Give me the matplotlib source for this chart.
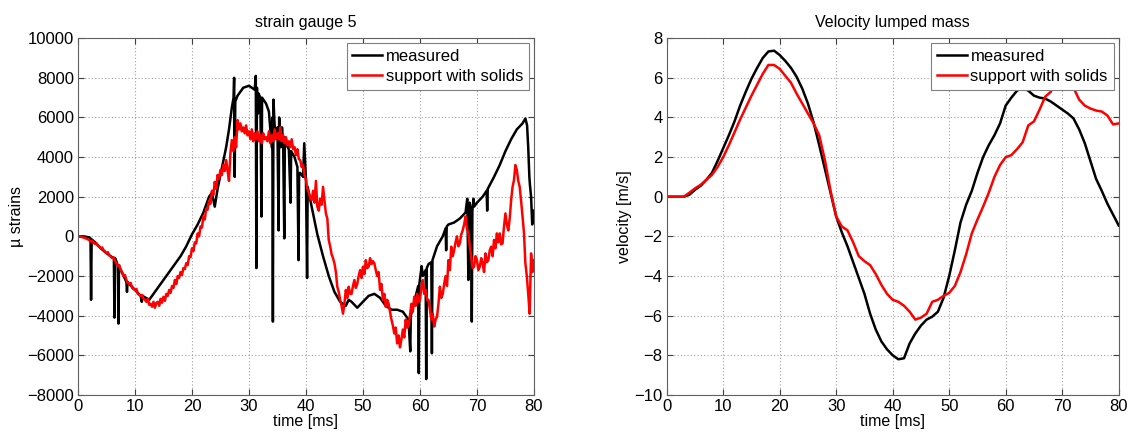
import numpy as np
import matplotlib
matplotlib.use("Agg")
import matplotlib.pyplot as plt

plt.rcParams['font.family'] = ['Liberation Sans', 'DejaVu Sans']

# ---------------- strain gauge 5 ----------------
strain_meas_t = [0, 1, 2, 2.2, 2.3, 2.4, 3, 4, 5, 6, 6.3, 6.4, 6.5, 6.8, 7.0, 7.1, 7.2, 8, 8.5, 8.6, 8.7,
                 9, 10, 11, 11.2, 11.3, 12.5, 13, 14, 15, 16, 17, 18, 19, 20, 21, 22, 23, 23.5, 24, 24.5,
                 25, 26, 26.5, 27, 27.3, 27.4, 27.5, 27.6, 28, 29, 30, 31, 31.2, 31.3, 31.4, 31.6, 31.7,
                 32, 32.2, 32.3, 33, 33.5, 34, 34.1, 34.2, 34.3, 34.6, 35, 35.2, 35.3, 35.6, 35.8, 36,
                 36.2, 36.3, 36.8, 37, 37.3, 37.4, 38, 38.5, 38.7, 38.8, 39, 39.5, 39.7, 40, 40.2, 40.3,
                 41, 42, 43, 44, 45, 46, 47, 47.5, 48, 49, 50, 51, 52, 53, 54, 55, 56, 57, 58, 58.3, 58.4,
                 59, 59.7, 59.8, 59.9, 60.3, 60.5, 61, 61.1, 61.2, 61.5, 62, 62.1, 62.2, 63, 64, 64.5,
                 64.6, 64.7, 65, 66, 67, 68, 68.3, 68.5, 68.7, 69, 69.1, 69.2, 69.4, 69.5, 70, 71, 71.7,
                 71.8, 71.9, 73, 74, 75, 76, 77, 78, 78.5, 78.8, 79, 79.2, 79.3, 79.5, 79.7, 80]
strain_meas_v = [0, 0, -50, -100, -3200, -150, -300, -600, -850, -1050, -1100, -4100, -1100, -1300, -1500,
                 -4400, -1500, -2000, -2300, -2800, -2300, -2400, -2700, -3000, -3300, -3000, -3200, -3000,
                 -2600, -2200, -1800, -1400, -1000, -500, 100, 600, 1200, 2000, 2200, 1500, 2400, 3100,
                 4500, 5400, 6500, 7000, 8000, 3000, 6800, 7100, 7500, 7600, 7400, 8100, -1600, 7500, 6200,
                 7200, 7000, 1000, 7000, 6700, 6300, 4500, 6000, -4300, 6900, 5000, 5500, 300, 6000, 4500,
                 5500, 4700, -100, 5000, 4500, 4400, 1700, 4300, 4000, 3500, -1200, 3200, 3200, 3000, 4700,
                 2900, -2100, 2500, 1500, 100, -1000, -2000, -2800, -3300, -3500, -3200, -3300, -3600,
                 -3300, -3000, -2900, -3100, -3500, -3700, -3700, -3800, -4200, -5800, -4000, -3300, -2500,
                 -6900, -2400, -1500, -2000, -1700, -7200, -1600, -1400, -1300, -5900, -1200, -500, 0, 400,
                 -700, 500, 600, 700, 900, 1200, 1900, -2200, 1700, 1300, -4300, 1300, 1900, 1500, 1700,
                 2000, 2300, 1300, 2400, 3000, 3600, 4300, 4900, 5400, 5700, 5950, 5600, 4500, 3000, 2600,
                 2000, 600, 1300]

strain_sim_t = [i * 0.25 for i in range(321)]
strain_sim_v = [
    0, 0, -20, -40,            -60, -80, -120, -150,
    -200, -260, -220, -320,    -380, -350, -470, -520,
    -600, -560, -700, -760,    -850, -800, -960, -1020,
    -1100, -1050, -1250, -1350, -1500, -1450, -1700, -1800,
    -2000, -1950, -2200, -2350, -2400, -2350, -2600, -2650,
    -2700, -2650, -2900, -2950, -3000, -2950, -3150, -3200,
    -3300, -3150, -3450, -3400, -3550, -3300, -3600, -3350,
    -3300, -3500, -3150, -3350, -3050, -3250, -2900, -3000,
    -2700, -2850, -2500, -2600, -2200, -2400, -2000, -2100,
    -1800, -1950, -1600, -1650, -1350, -1450, -1000, -1050,
    -600, -750, -300, -350,    150, 0, 500, 450,
    1000, 850, 1400, 1350,     1800, 1650, 2300, 2100,
    2750, 2400, 3100, 2900,    3350, 3100, 3600, 3300,
    3850, 3300, 2800, 4200,    4860, 4300, 5000, 4500,
    5870, 5400, 5700, 5300,    5500, 5200, 5600, 5100,
    5300, 4900, 5400, 4800,    5200, 4900, 5300, 4800,
    5100, 4700, 5200, 4900,    5000, 4800, 5300, 4700,
    5100, 4800, 5400, 4900,    5200, 4900, 5500, 4800,
    5100, 4700, 5000, 4600,    4800, 4500, 4900, 4400,
    4500, 4100, 4400, 3900,    3850, 3500, 3600, 3100,
    2850, 2400, 2200, 1900,    1830, 2300, 1700, 2800,
    1500, 1300, 1900, 1600,    2500, 1800, 1160, 900,
    -180, -500, -900, -1100,   -1360, -1800, -2540, -2800,
    -3200, -3500, -3900, -3400, -2700, -3100, -2540, -2900,
    -2900, -2500, -2200, -2600, -2400, -2000, -1700, -2100,
    -1530, -1900, -1200, -1600, -1530, -1100, -1400, -1250,
    -1360, -1700, -2000, -1800, -2700, -2400, -3200, -2900,
    -3550, -3200, -3400, -3800, -4200, -4500, -4900, -4600,
    -5400, -5000, -5600, -5200, -4700, -5100, -4200, -4600,
    -4550, -4000, -3400, -3800, -3050, -3500, -2900, -3300,
    -3200, -2600, -2200, -2900, -2700, -3200, -3200, -3700,
    -4200, -3900, -4550, -4200, -4050, -3400, -2540, -3100,
    -2900, -2400, -2000, -2500, -1200, -1700, -520, -1000,
    -700, -300, 0, -500,       -350, 100, 300, 600,
    1000, 400, 150, -500,      -1030, -1600, -1530, -1000,
    -1200, -1700, -1530, -1100, -1360, -1800, -860, -1300,
    -1200, -700, -520, -1000,  -180, -600, 150, -300,
    150, -400, -350, 500,      1160, 600, 300, 900,
    1830, 2500, 2840, 3600,    3350, 2800, 2500, 1800,
    1000, 200, -1360, -2000,   -2900, -3900, -860, -1800,
    -1200]

# ---------------- velocity lumped mass ----------------
vel_t = list(range(81))
vel_meas = [0, 0, 0, 0, 0.1, 0.35, 0.55, 0.85, 1.2, 1.8, 2.45, 3.1, 3.8, 4.6, 5.3, 5.95, 6.5, 7.0, 7.33,
            7.37, 7.15, 6.85, 6.5, 6.05, 5.45, 4.7, 3.75, 2.6, 1.4, 0.2, -1.0, -1.8, -2.5, -3.3, -4.1,
            -4.9, -5.9, -6.7, -7.3, -7.7, -8.0, -8.2, -8.15, -7.4, -6.9, -6.5, -6.2, -6.05, -5.8, -5.1,
            -4.0, -2.7, -1.3, -0.4, 0.3, 1.2, 2.0, 2.6, 3.1, 3.7, 4.6, 5.0, 5.35, 5.5, 5.35, 5.1, 5.0,
            4.95, 4.8, 4.6, 4.4, 4.2, 3.95, 3.4, 2.7, 1.8, 0.9, 0.3, -0.35, -0.9, -1.45]
vel_sim = [0, 0, 0, 0, 0.2, 0.42, 0.6, 0.85, 1.1, 1.5, 2.0, 2.6, 3.25, 3.9, 4.5, 5.1, 5.65, 6.2, 6.65,
           6.65, 6.45, 6.1, 5.75, 5.2, 4.7, 4.2, 3.7, 3.1, 1.85, 0.3, -1.0, -1.5, -1.7, -2.3, -3.0,
           -3.25, -3.45, -3.9, -4.45, -4.9, -5.2, -5.3, -5.5, -5.8, -6.2, -6.1, -5.9, -5.3, -5.2, -5.0,
           -4.85, -4.5, -3.8, -2.9, -1.85, -1.15, -0.5, 0.2, 1.0, 1.6, 2.0, 2.1, 2.4, 2.75, 3.6, 3.8,
           4.4, 5.05, 5.3, 5.9, 6.2, 6.1, 5.5, 4.9, 4.6, 4.45, 4.35, 4.3, 4.1, 3.65, 3.7]

labels = ["measured", "support with solids"]
x_ticks = list(range(0, 81, 10))
strain_yticks = list(range(-8000, 10001, 2000))
vel_yticks = list(range(-10, 9, 2))

fig = plt.figure(figsize=(11.3, 4.34), dpi=100)
ax1 = fig.add_axes([0.069, 0.090, 0.4035, 0.822])
ax2 = fig.add_axes([0.590, 0.090, 0.400, 0.822])

def style(ax):
    ax.set_xlim(0, 80)
    ax.set_xticks(x_ticks)
    ax.grid(True, linestyle=(0, (1, 2)), color='#a0a0a0', linewidth=0.8)
    ax.tick_params(direction='in', top=True, right=True, labelsize=12, length=4,
                   color='#404040', pad=3)
    for s in ax.spines.values():
        s.set_color('#606060')
        s.set_linewidth(0.8)
    ax.set_xlabel("time [ms]", fontsize=11.5, labelpad=0)
    leg = ax.legend(loc='upper right', fontsize=12, fancybox=False, edgecolor='#808080',
                    framealpha=1, borderaxespad=0.3, handlelength=1.8, handletextpad=0.2,
                    borderpad=0.35, labelspacing=0.3)
    leg.get_frame().set_linewidth(0.8)

ax1.plot(strain_meas_t, strain_meas_v, color='black', lw=1.8, label=labels[0])
ax1.plot(strain_sim_t, strain_sim_v, color='#ff0000', lw=1.8, label=labels[1])
ax1.set_ylim(-8000, 10000)
ax1.set_yticks(strain_yticks)
ax1.set_title("strain gauge 5", fontsize=11.5, pad=8)
ax1.set_ylabel("µ strains", fontsize=11.5, labelpad=2)
style(ax1)

ax2.plot(vel_t, vel_meas, color='black', lw=1.8, label=labels[0])
ax2.plot(vel_t, vel_sim, color='#ff0000', lw=1.8, label=labels[1])
ax2.set_ylim(-10, 8)
ax2.set_yticks(vel_yticks)
ax2.set_title("Velocity lumped mass", fontsize=11.5, pad=8)
ax2.set_ylabel("velocity [m/s]", fontsize=11.5, labelpad=2)
style(ax2)

fig.savefig("out.png", dpi=100)
